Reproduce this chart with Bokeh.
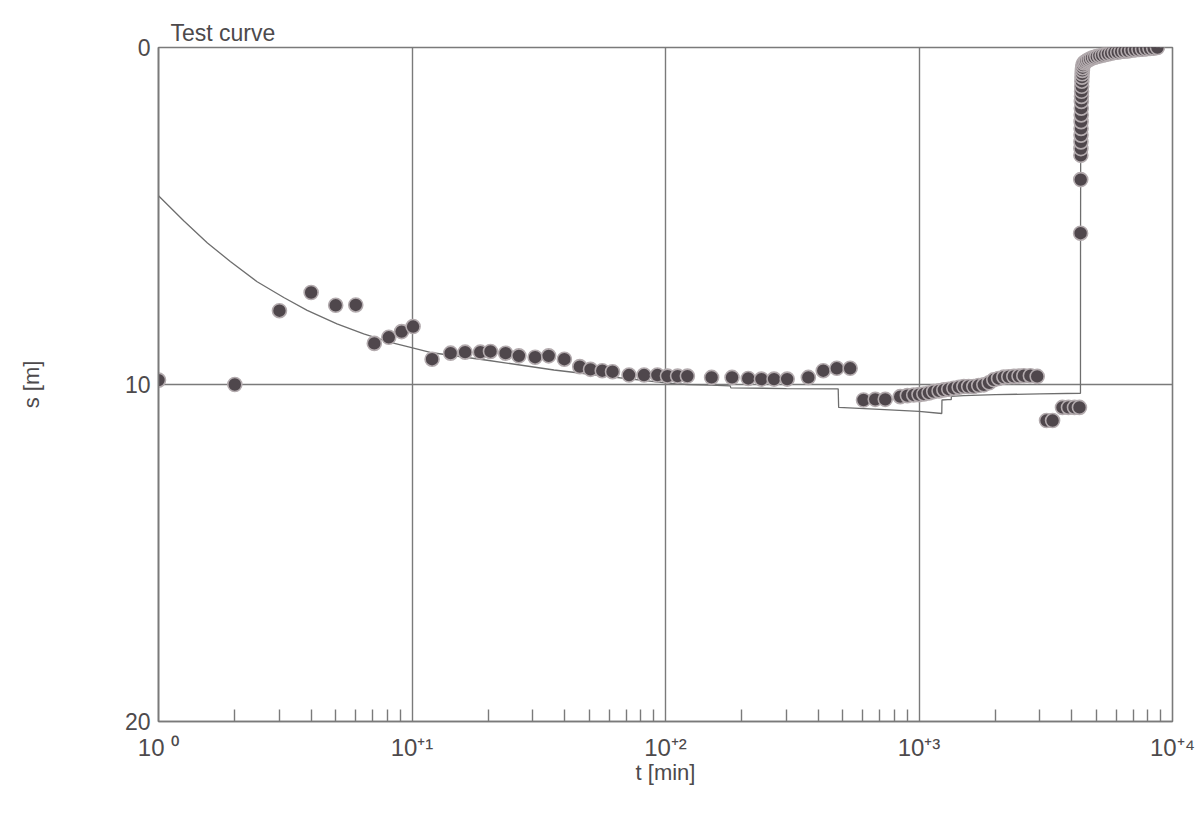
from bokeh.plotting import figure
from bokeh.models import Range1d, FixedTicker, ColumnDataSource
from bokeh.embed import file_html
from bokeh.resources import INLINE

# ---- data ----
# observed drawdown / recovery: time [min], drawdown s [m]
obs_t = [1.0, 2.0, 3.0, 4.0, 5.0, 6.0, 7.1, 8.1, 9.1, 10.1,
         12.0, 14.2, 16.2, 18.6, 20.4, 23.4, 26.4, 30.6, 34.6, 39.9,
         45.9, 50.6, 56.3, 61.8, 71.8, 82.3, 92.9, 101.8, 111.6, 122,
         152, 183, 212, 239, 268, 302, 366, 419, 474, 535,
         604, 672, 736, 843, 900, 953, 1000, 1045, 1095, 1143, 1200, 1253, 1310, 1372,
         1440, 1503, 1570, 1645, 1720, 1802, 1890, 1973, 2060, 2161, 2260, 2366, 2480, 2590, 2750, 2926,
         3185, 3365, 3681, 3888, 4106, 4295,
         4340, 4345, 4350, 4352, 4354, 4356, 4358, 4360, 4363, 4366, 4370, 4374, 4378,
         4383, 4388, 4394, 4400, 4410, 4420, 4435,
         4470, 4520, 4580, 4650, 4730, 4820, 4920, 5030, 5150, 5280, 5420,
         5570, 5730, 5900, 6080, 6270, 6470, 6680, 6900, 7130, 7370, 7620, 7880, 8150, 8430, 8720]
obs_s = [9.87, 10.0, 7.81, 7.27, 7.65, 7.64, 8.78, 8.6, 8.43, 8.28,
         9.25, 9.07, 9.04, 9.04, 9.02, 9.07, 9.15, 9.19, 9.15, 9.25,
         9.47, 9.55, 9.59, 9.62, 9.72, 9.72, 9.72, 9.75, 9.75, 9.75,
         9.79, 9.79, 9.82, 9.84, 9.84, 9.84, 9.79, 9.59, 9.52, 9.52,
         10.46, 10.44, 10.44, 10.36, 10.33, 10.31, 10.3, 10.28, 10.25, 10.21, 10.19, 10.16, 10.14, 10.11,
         10.08, 10.06, 10.06, 10.06, 10.03, 10.01, 9.95, 9.86, 9.82, 9.78, 9.77, 9.76, 9.75, 9.74, 9.74, 9.76,
         11.07, 11.07, 10.68, 10.68, 10.68, 10.68,
         5.51, 3.92, 3.2, 3.0, 2.8, 2.6, 2.4, 2.2, 2.0, 1.8, 1.6, 1.45, 1.3,
         1.15, 1.0, 0.88, 0.78, 0.68, 0.6, 0.52,
         0.46, 0.43, 0.4, 0.37, 0.34, 0.31, 0.29, 0.27, 0.25, 0.23, 0.21,
         0.19, 0.17, 0.15, 0.14, 0.12, 0.11, 0.1, 0.08, 0.07, 0.06, 0.05, 0.04, 0.03, 0.02, 0.0]

# fitted test curve
curve_t = [1.0, 1.26, 1.56, 1.92, 2.45, 3.12, 3.86, 5.06, 6.45, 8.22, 9.87, 11.8, 19.8,
           36.3, 66, 102, 122, 150, 180, 181, 300, 480, 482, 700, 1000, 1230, 1232,
           1300, 1340, 1342, 1500, 2000, 3000, 4335, 4337, 4345, 4400, 4500, 4800,
           5200, 5800, 6500, 7500, 8720]
curve_s = [4.4, 5.15, 5.8, 6.35, 6.95, 7.42, 7.8, 8.2, 8.5, 8.75, 8.9, 9.05, 9.28,
           9.57, 9.8, 9.96, 10.0, 10.02, 10.04, 10.1, 10.12, 10.13, 10.68, 10.74, 10.8, 10.86, 10.46,
           10.45, 10.45, 10.35, 10.33, 10.3, 10.28, 10.26, 6.0, 2.0, 0.6, 0.45, 0.36,
           0.29, 0.2, 0.12, 0.05, 0.0]

decades = [1, 10, 100, 1000, 10000]
decade_labels = ["10 \u2070", "10\u207a\u00b9", "10\u207a\u00b2", "10\u207a\u00b3", "10\u207a\u2074"]
minor = [m * d for d in [1, 10, 100, 1000] for m in range(2, 10)]

GREY = "#7a7a7a"
TXT = "#4d4a4c"
FONT = "Liberation Sans"

p = figure(width=1203, height=818, x_axis_type="log",
           x_range=Range1d(1, 10000), y_range=Range1d(20, 0),
           output_backend="svg", toolbar_location=None,
           min_border_left=158, min_border_right=31,
           min_border_top=47, min_border_bottom=97)
p.background_fill_color = "white"
p.border_fill_color = "white"
p.outline_line_color = GREY
p.outline_line_width = 1.6

# title in the top-left corner, just above the frame
p.title.text = "Test curve"
p.title.align = "left"
p.title.offset = 12
p.title.standoff = 3
p.title.text_font = FONT
p.title.text_font_size = "23px"
p.title.text_font_style = "normal"
p.title.text_color = TXT

# grid
p.xgrid.ticker = FixedTicker(ticks=[10, 100, 1000])
p.ygrid.ticker = FixedTicker(ticks=[10])
for g in (p.xgrid, p.ygrid):
    g.grid_line_color = GREY
    g.grid_line_width = 1.4
    g.grid_line_alpha = 1.0

# x axis
xa = p.xaxis[0]
xa.ticker = FixedTicker(ticks=decades, minor_ticks=minor)
xa.major_label_overrides = dict(zip(decades, decade_labels))
xa.axis_line_color = GREY
xa.axis_line_width = 1.6
xa.major_tick_in = 0
xa.major_tick_out = 0
xa.minor_tick_in = 12
xa.minor_tick_out = 0
xa.minor_tick_line_color = GREY
xa.minor_tick_line_width = 1.4
xa.major_label_text_font = FONT
xa.major_label_text_font_size = "24px"
xa.major_label_text_color = TXT
xa.major_label_standoff = 12
xa.axis_label = "t [min]"
xa.axis_label_text_font = FONT
xa.axis_label_text_font_size = "22px"
xa.axis_label_text_font_style = "normal"
xa.axis_label_text_color = TXT
xa.axis_label_standoff = -4

# y axis
ya = p.yaxis[0]
ya.ticker = FixedTicker(ticks=[0, 10, 20])
ya.axis_line_color = GREY
ya.axis_line_width = 1.6
ya.major_tick_in = 0
ya.major_tick_out = 0
ya.minor_tick_in = 0
ya.minor_tick_out = 0
ya.major_label_text_font = FONT
ya.major_label_text_font_size = "23px"
ya.major_label_text_color = TXT
ya.major_label_standoff = 8
ya.axis_label = "s [m]"
ya.axis_label_text_font = FONT
ya.axis_label_text_font_size = "22px"
ya.axis_label_text_font_style = "normal"
ya.axis_label_text_color = TXT
ya.axis_label_standoff = 78

# curve and observations
p.line(curve_t, curve_s, line_color="#6e6e6e", line_width=1.3)
src = ColumnDataSource(dict(t=obs_t, s=obs_s))
p.scatter("t", "s", source=src, size=14, fill_color="#4f474c",
          line_color="#b3abae", line_width=1.6)

open("out.html", "w").write(file_html(p, INLINE))
